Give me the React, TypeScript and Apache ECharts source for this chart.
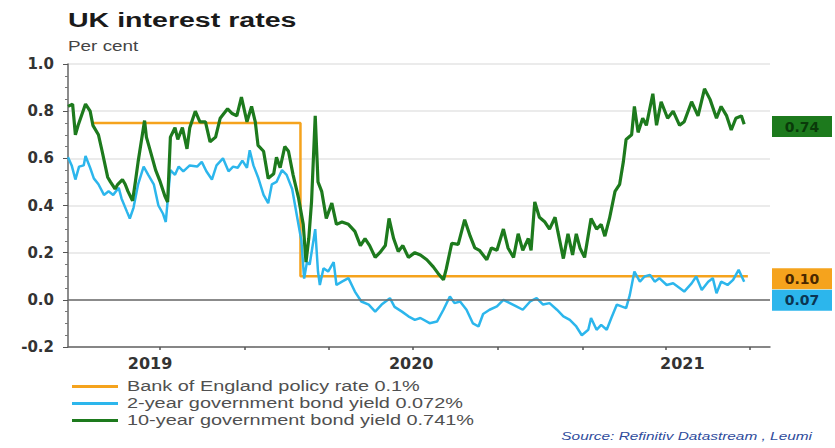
import React, { useEffect, useRef } from "react";
import * as echarts from "echarts";

// x values are days counted from 1 Jan 2019
const xMin = 173;
const xMax = 934;
const quarterTicks = [273, 365, 456, 547, 639, 731, 821, 912];
const yearLabelDays = [262, 545, 839];
const yearLabelText = ["2019", "2020", "2021"];

const seriesNames = [
  "Bank of England policy rate 0.1%",
  "2-year government bond yield 0.072%",
  "10-year government bond yield 0.741%",
];
const latestLabels = ["0.10", "0.07", "0.74"];
const latestValues = [0.1, 0.072, 0.741];

const policyRate = [
  [198, 0.75], [425, 0.75], [425, 0.1], [910, 0.1],
];

const twoYear = [
  [173, 0.605], [177, 0.57], [181, 0.51], [185, 0.565], [190, 0.57], [192, 0.61], [197, 0.56], [201, 0.515],
  [206, 0.49], [212, 0.445], [217, 0.46], [222, 0.445], [228, 0.475], [231, 0.43], [237, 0.373], [240, 0.345],
  [244, 0.39], [249, 0.49], [255, 0.565], [260, 0.53], [266, 0.49], [271, 0.4], [276, 0.365], [279, 0.33],
  [284, 0.55], [289, 0.53], [293, 0.565], [298, 0.545], [305, 0.57], [313, 0.565], [318, 0.585], [323, 0.545],
  [329, 0.51], [334, 0.57], [341, 0.6], [347, 0.545], [352, 0.565], [357, 0.56], [362, 0.59], [367, 0.56],
  [370, 0.634], [374, 0.57], [379, 0.52], [385, 0.445], [390, 0.41], [394, 0.49], [399, 0.5], [405, 0.55],
  [410, 0.53], [416, 0.47], [421, 0.36], [426, 0.25], [429, 0.09], [432, 0.16], [435, 0.15], [441, 0.3],
  [444, 0.12], [446, 0.063], [450, 0.134], [455, 0.12], [461, 0.16], [464, 0.063], [470, 0.077], [477, 0.092],
  [484, 0.035], [491, -0.007], [499, -0.02], [506, -0.05], [513, -0.02], [522, 0.007], [527, -0.03], [535, -0.05],
  [542, -0.07], [549, -0.085], [555, -0.077], [565, -0.099], [573, -0.092], [580, -0.042], [587, 0.014], [592, -0.014],
  [598, -0.007], [605, -0.042], [612, -0.1], [618, -0.113], [623, -0.06], [630, -0.042], [638, -0.028], [645, 0.0],
  [652, -0.014], [659, -0.028], [666, -0.042], [674, -0.007], [681, 0.007], [688, -0.02], [695, -0.014], [703, -0.042],
  [710, -0.07], [717, -0.085], [724, -0.113], [730, -0.15], [737, -0.127], [740, -0.077], [746, -0.127], [751, -0.106],
  [757, -0.127], [762, -0.077], [768, -0.02], [773, -0.028], [778, -0.035], [782, 0.02], [787, 0.12], [793, 0.077],
  [798, 0.099], [804, 0.106], [809, 0.077], [814, 0.092], [822, 0.063], [829, 0.07], [836, 0.05], [841, 0.035],
  [849, 0.07], [854, 0.099], [860, 0.042], [867, 0.077], [872, 0.092], [876, 0.028], [881, 0.077], [888, 0.063],
  [894, 0.085], [900, 0.127], [906, 0.077],
];

const tenYear = [
  [173, 0.82], [178, 0.83], [181, 0.7], [184, 0.74], [192, 0.83], [197, 0.8], [200, 0.74], [206, 0.7],
  [210, 0.63], [216, 0.52], [219, 0.5], [224, 0.47], [227, 0.49], [232, 0.51], [235, 0.49], [238, 0.46],
  [243, 0.42], [246, 0.5], [249, 0.585], [253, 0.685], [256, 0.76], [258, 0.69], [262, 0.635], [268, 0.55],
  [273, 0.5], [278, 0.44], [281, 0.415], [284, 0.69], [289, 0.73], [292, 0.68], [297, 0.73], [302, 0.64],
  [305, 0.73], [311, 0.8], [316, 0.755], [322, 0.755], [327, 0.67], [333, 0.69], [338, 0.77], [346, 0.81],
  [351, 0.79], [356, 0.78], [361, 0.86], [367, 0.755], [372, 0.82], [376, 0.755], [379, 0.655], [385, 0.63],
  [390, 0.515], [396, 0.535], [399, 0.605], [403, 0.56], [408, 0.65], [412, 0.63], [417, 0.53], [423, 0.43],
  [428, 0.32], [431, 0.16], [434, 0.26], [437, 0.415], [441, 0.78], [444, 0.5], [448, 0.46], [453, 0.345],
  [459, 0.41], [464, 0.32], [470, 0.33], [477, 0.32], [484, 0.29], [490, 0.23], [495, 0.26], [500, 0.23],
  [506, 0.18], [511, 0.2], [517, 0.23], [521, 0.345], [526, 0.26], [531, 0.205], [536, 0.23], [542, 0.18],
  [549, 0.2], [555, 0.19], [562, 0.17], [569, 0.14], [574, 0.113], [580, 0.085], [583, 0.13], [589, 0.24],
  [596, 0.235], [603, 0.34], [609, 0.27], [614, 0.22], [619, 0.21], [627, 0.17], [632, 0.22], [638, 0.21],
  [645, 0.3], [650, 0.22], [656, 0.18], [661, 0.28], [666, 0.21], [672, 0.26], [675, 0.21], [679, 0.415],
  [684, 0.35], [690, 0.33], [695, 0.3], [701, 0.35], [704, 0.29], [710, 0.175], [715, 0.28], [720, 0.19],
  [724, 0.28], [728, 0.22], [733, 0.18], [740, 0.345], [746, 0.3], [751, 0.32], [755, 0.27], [760, 0.345],
  [766, 0.46], [771, 0.49], [775, 0.585], [778, 0.68], [784, 0.7], [787, 0.82], [791, 0.71], [796, 0.77],
  [800, 0.74], [807, 0.874], [811, 0.74], [816, 0.84], [823, 0.77], [829, 0.8], [836, 0.74], [841, 0.755],
  [849, 0.84], [856, 0.78], [863, 0.895], [869, 0.85], [876, 0.77], [881, 0.82], [887, 0.78], [892, 0.72],
  [897, 0.77], [903, 0.78], [906, 0.745],
];

const colors = ["#f5a31d", "#2cb6ec", "#1d7a1d"];
const boxText = ["#4a2800", "#0b3552", "#0a3a0a"];
const boxOffsetY = [2.6, 17.5, 1.5];

const ARIAL = '"Liberation Sans", Arial, sans-serif';
const WIDE = '"DejaVu Sans", sans-serif';

export default function App() {
  const ref = useRef<HTMLDivElement>(null);

  useEffect(() => {
    const chart = echarts.init(ref.current!, null, { renderer: "svg" });
    const datasets = [policyRate, twoYear, tenYear];
    const widths = [2.5, 2.5, 3.2];

    const series = datasets.map((d, i) => ({
      name: seriesNames[i],
      type: "line",
      data: d,
      showSymbol: false,
      symbol: "none",
      lineStyle: { color: colors[i], width: widths[i] },
      itemStyle: { color: colors[i] },
      z: 3 + i,
      markLine:
        i === 0
          ? {
              silent: true,
              symbol: "none",
              label: { show: false },
              lineStyle: { color: "#6b6b6b", width: 1.5, type: "solid" },
              data: [{ yAxis: 0 }],
            }
          : undefined,
      markPoint: {
        silent: true,
        symbol: "rect",
        symbolSize: [60, 21],
        symbolOffset: [32, boxOffsetY[i]],
        itemStyle: { color: colors[i] },
        label: {
          show: true,
          position: "inside",
          formatter: () => latestLabels[i],
          color: boxText[i],
          fontFamily: WIDE,
          fontWeight: "bold",
          fontSize: 14,
        },
        data: [{ coord: [xMax, latestValues[i]] }],
      },
    }));

    const legendRowsY = [386.5, 403.5, 420.5];
    const graphics: any[] = [
      {
        type: "text",
        x: 68,
        y: 19.5,
        scaleX: 1.36,
        style: {
          text: "UK interest rates",
          fontFamily: ARIAL,
          fontWeight: "bold",
          fontSize: 21,
          fill: "#1a1a1a",
          align: "left",
          verticalAlign: "middle",
        },
      },
      {
        type: "text",
        x: 68,
        y: 46.5,
        scaleX: 1.35,
        style: {
          text: "Per cent",
          fontFamily: ARIAL,
          fontSize: 14,
          fill: "#444",
          align: "left",
          verticalAlign: "middle",
        },
      },
      {
        type: "text",
        x: 812,
        y: 436,
        scaleX: 1.4,
        style: {
          text: "Source: Refinitiv Datastream , Leumi",
          fontFamily: ARIAL,
          fontStyle: "italic",
          fontSize: 11,
          fill: "#2f4c9c",
          align: "right",
          verticalAlign: "middle",
        },
      },
    ];
    seriesNames.forEach((name, i) => {
      graphics.push({
        type: "line",
        shape: { x1: 72, y1: legendRowsY[i], x2: 118, y2: legendRowsY[i] },
        style: { stroke: colors[i], lineWidth: 3 },
      });
      graphics.push({
        type: "text",
        x: 127,
        y: legendRowsY[i],
        scaleX: 1.42,
        style: {
          text: name,
          fontFamily: ARIAL,
          fontSize: 14,
          fill: "#505050",
          align: "left",
          verticalAlign: "middle",
        },
      });
    });

    chart.setOption({
      animation: false,
      backgroundColor: "#ffffff",
      grid: { left: 68, right: 65, top: 64, bottom: 101, containLabel: false },
      xAxis: {
        type: "value",
        min: xMin,
        max: xMax,
        axisLine: { show: true, onZero: false, lineStyle: { color: "#666", width: 1.5 } },
        axisTick: {
          show: true,
          customValues: quarterTicks,
          length: 3,
          lineStyle: { color: "#555", width: 1.5 },
        },
        axisLabel: {
          show: true,
          customValues: yearLabelDays,
          formatter: (v: number) => {
            const k = yearLabelDays.indexOf(Math.round(v));
            return k >= 0 ? yearLabelText[k] : "";
          },
          margin: 8,
          color: "#333",
          fontFamily: WIDE,
          fontWeight: "bold",
          fontSize: 16,
        },
        splitLine: { show: false },
      },
      yAxis: {
        type: "value",
        min: -0.2,
        max: 1.0,
        interval: 0.2,
        axisLine: { show: true, onZero: false, lineStyle: { color: "#666", width: 1.5 } },
        axisTick: { show: true, length: 5, lineStyle: { color: "#555" } },
        minorTick: { show: true, splitNumber: 4, length: 3, lineStyle: { color: "#777" } },
        axisLabel: {
          formatter: (v: number) => v.toFixed(1),
          color: "#333",
          fontFamily: WIDE,
          fontWeight: "bold",
          fontSize: 15,
          margin: 14,
        },
        splitLine: { show: true, lineStyle: { color: "#e4e4e4", width: 1.5 } },
      },
      series,
      graphic: graphics,
    });

    return () => chart.dispose();
  }, []);

  return (
    <div
      ref={ref}
      style={{ position: "absolute", left: 0, top: 0, width: 835, height: 448 }}
    />
  );
}
